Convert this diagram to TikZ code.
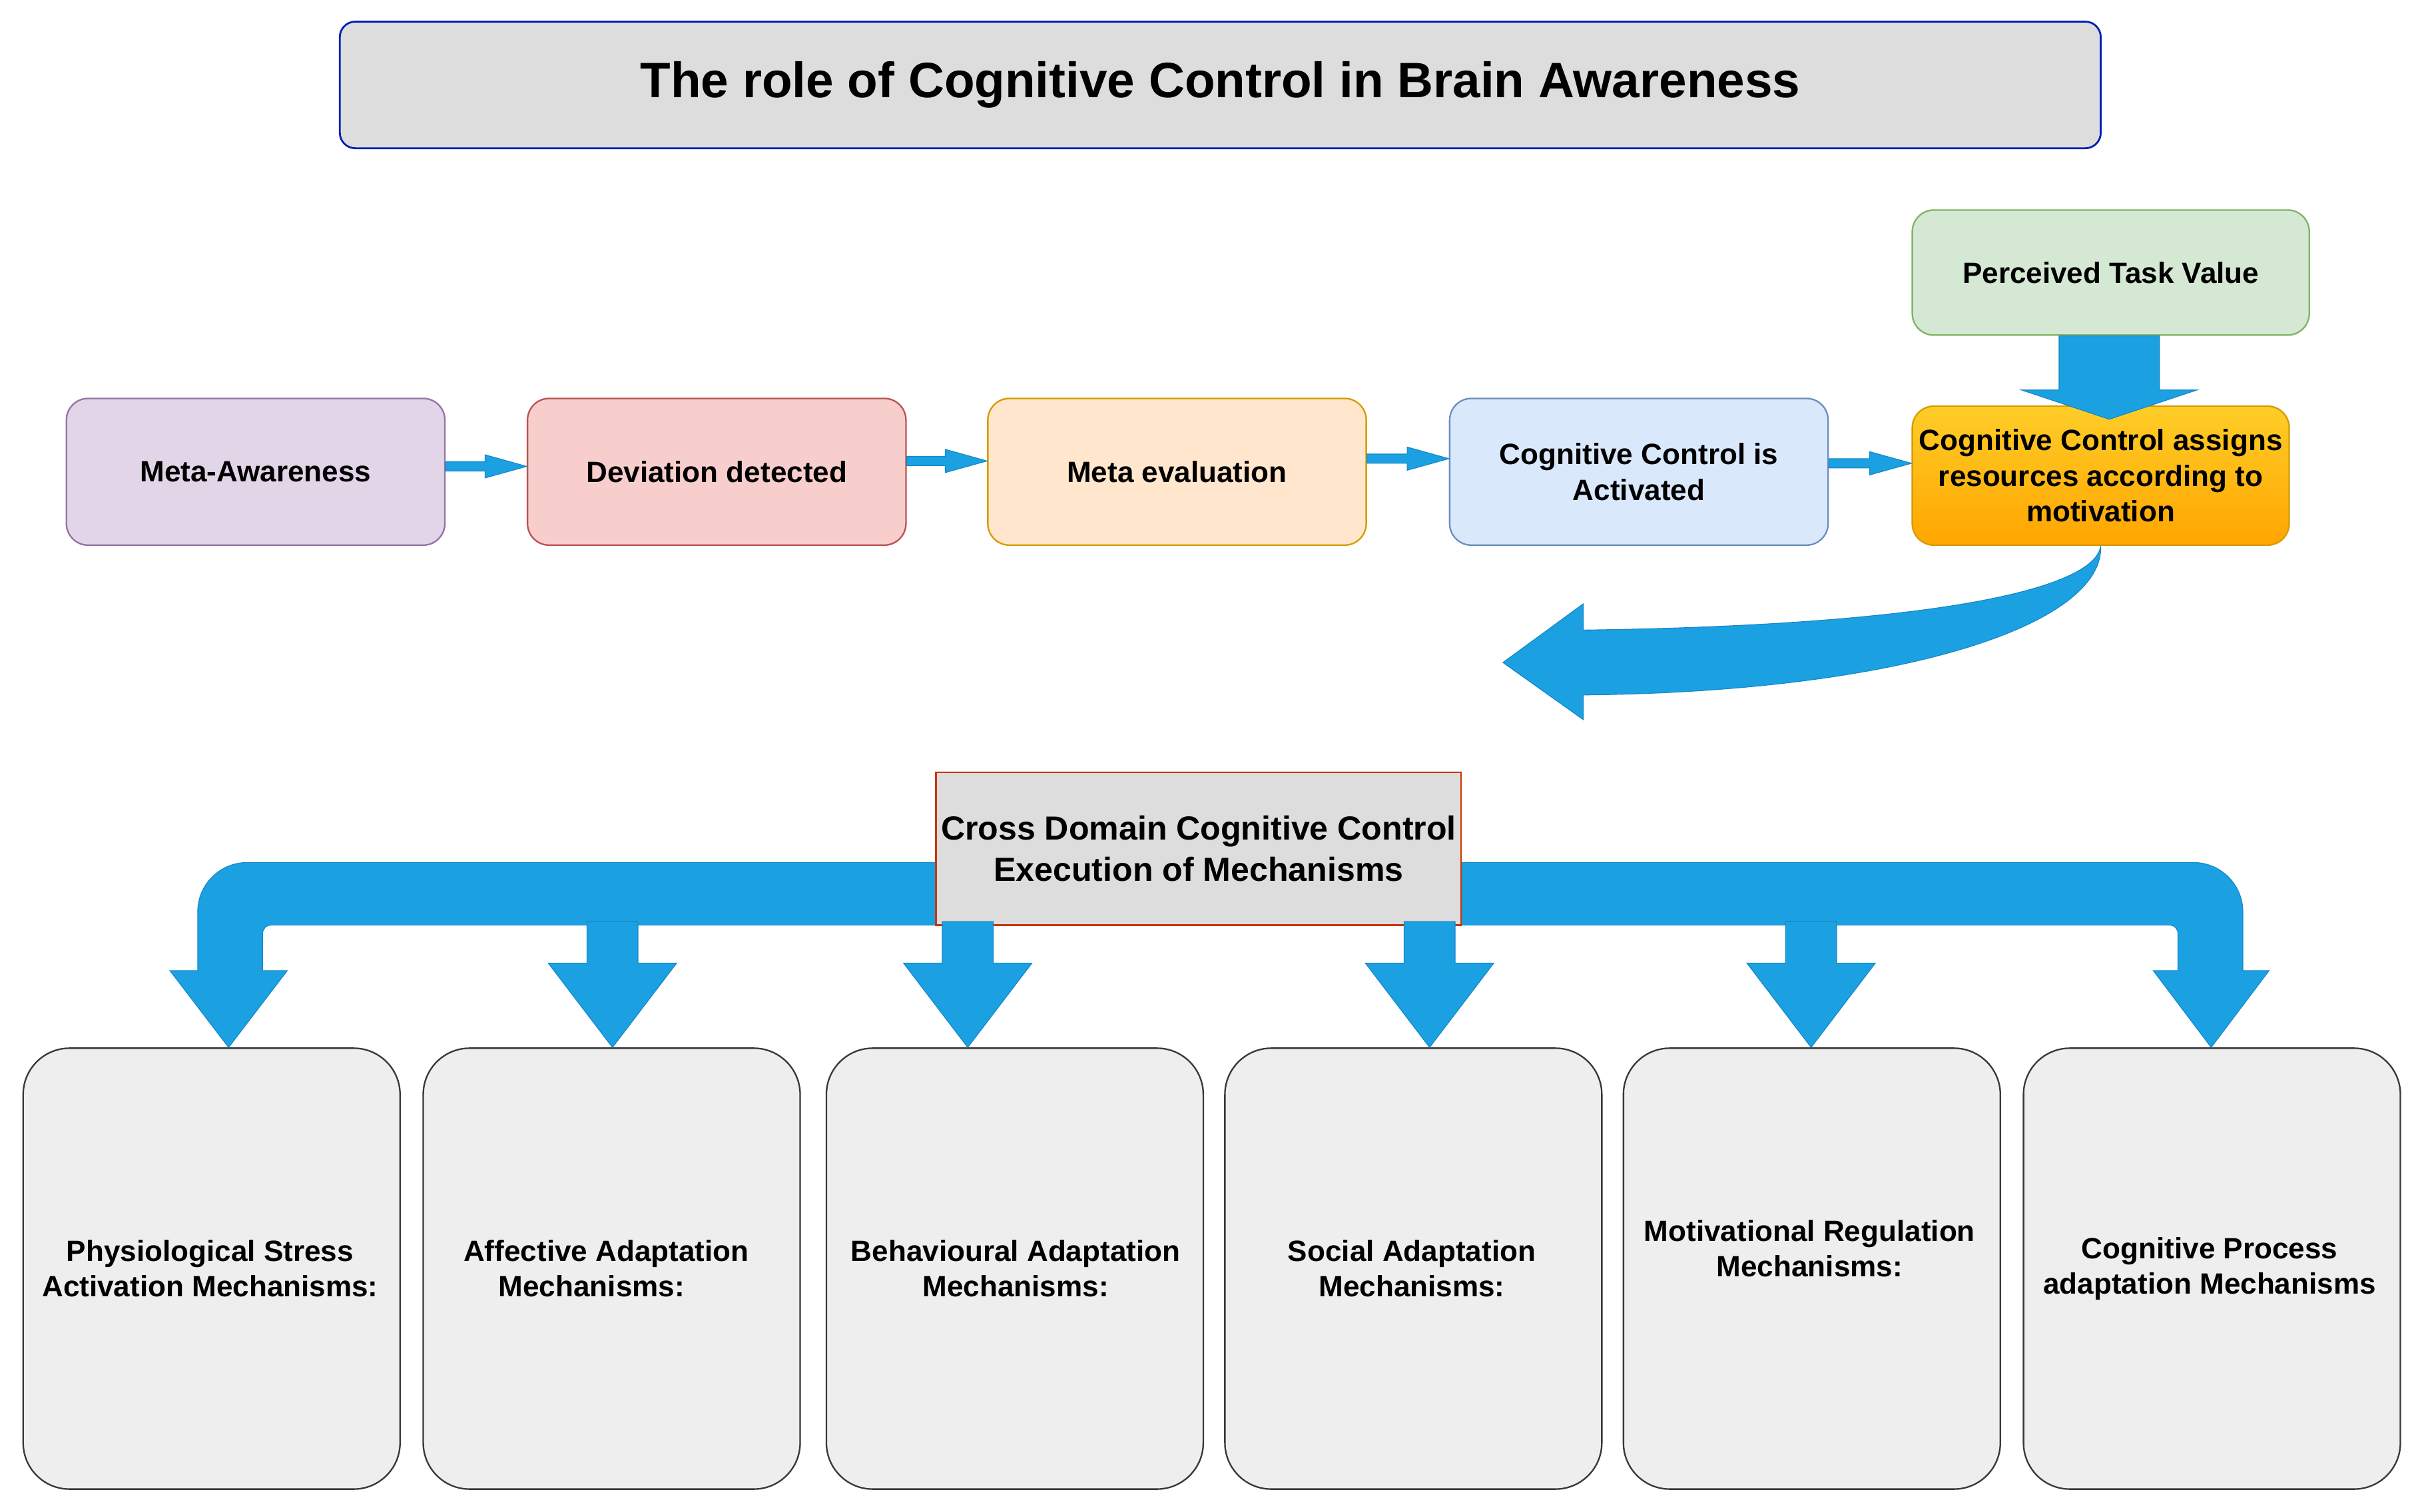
\documentclass[tikz,border=0pt]{standalone}
\usepackage{fontspec}
\setmainfont{Liberation Sans}
\usetikzlibrary{calc}
\definecolor{arrowblue}{HTML}{1BA1E2}
\definecolor{arrowedge}{HTML}{1587C8}
\definecolor{purpleF}{HTML}{E1D5E7}\definecolor{purpleD}{HTML}{9673A6}
\definecolor{redF}{HTML}{F8CECC}\definecolor{redD}{HTML}{B85450}
\definecolor{orangeF}{HTML}{FFE6CC}\definecolor{orangeD}{HTML}{D79B00}
\definecolor{blueF}{HTML}{DAE8FC}\definecolor{blueD}{HTML}{6C8EBF}
\definecolor{greenF}{HTML}{D5E8D4}\definecolor{greenD}{HTML}{82B366}
\definecolor{goldT}{HTML}{FFCD28}\definecolor{goldB}{HTML}{FFA500}
\definecolor{titleF}{HTML}{DDDDDD}\definecolor{titleD}{HTML}{001DBC}
\definecolor{crossD}{HTML}{C73500}
\definecolor{mechF}{HTML}{EEEEEE}\definecolor{mechD}{HTML}{36393D}
\tikzset{
  flowbox/.style={rounded corners=14pt, line width=1pt, minimum width=245pt,
    minimum height=95pt, align=center, inner sep=0pt,
    font=\bfseries\fontsize{19}{23}\selectfont},
  mechbox/.style={rounded corners=30pt, line width=1pt, fill=mechF, draw=mechD,
    minimum width=244pt, minimum height=285.5pt, inner sep=0pt},
  mechtext/.style={align=center, inner sep=0pt, font=\bfseries\fontsize{19}{23}\selectfont},
  arrowfill/.style={fill=arrowblue, draw=arrowedge, line width=0.5pt, line join=miter},
}
% small flex arrow from node #1 (east) to node #2 (west), vertical offset #3 from #1's centre
\newcommand\flexarr[3]{%
  \path ($(#1.east)+(0,#3)$) coordinate (fs);
  \path (fs -| #2.west) coordinate (ft);
  \filldraw[arrowfill] ($(fs)+(0,-3)$) -- ($(ft)+(-27,-3)$) -- ($(ft)+(-27,-7.5)$) -- (ft)
    -- ($(ft)+(-27,7.5)$) -- ($(ft)+(-27,3)$) -- ($(fs)+(0,3)$) -- cycle;}
% drop arrow ending at coordinate #1 (tip)
\newcommand\droparr[1]{%
  \filldraw[arrowfill] (#1) -- ++(-41.5,-54.5) -- ++(25,0) -- ++(0,-27) -- ++(33,0)
    -- ++(0,27) -- ++(25,0) -- cycle;}
\begin{document}
\begin{tikzpicture}[x=1pt,y=-1pt]
\useasboundingbox[fill=white] (0,0) rectangle (1568,979);

% title
\node[draw=titleD, fill=titleF, rounded corners=10pt, line width=1.2pt,
  minimum width=1140pt, minimum height=82pt, inner sep=0pt,
  font=\bfseries\fontsize{32.2}{38}\selectfont] (title) at (790,55)
  {The role of Cognitive Control in Brain Awareness};

% top row
\node[flowbox, fill=purpleF, draw=purpleD] (ma) at (165.5,305.5) {Meta-Awareness};
\node[flowbox, fill=redF, draw=redD] (dd) at (464,305.5) {Deviation detected};
\node[flowbox, fill=orangeF, draw=orangeD] (me) at (762,305.5) {Meta evaluation};
\node[flowbox, fill=blueF, draw=blueD] (cc) at (1061,305.5) {Cognitive Control is\\Activated};
\node[flowbox, minimum width=244pt, minimum height=90pt, top color=goldT,
  bottom color=goldB, draw=orangeD] (cr) at (1360,308)
  {Cognitive Control assigns\\resources according to\\motivation};
\node[flowbox, minimum width=257pt, minimum height=81pt, fill=greenF, draw=greenD]
  (pt) at (1366.5,176.5) {Perceived Task Value};

\flexarr{ma}{dd}{-3.5}
\flexarr{dd}{me}{-7}
\flexarr{me}{cc}{-8.5}
\flexarr{cc}{cr}{-5.5}

% big down arrow perceived -> assigns
\coordinate (ptip) at ($(pt.south)+(-1,54)$);
\filldraw[arrowfill] (ptip) -- ++(-57,-19) -- ++(24.5,0) -- ($(pt.south)+(-33.5,0)$)
  -- ($(pt.south)+(31.5,0)$) -- ++(0,35) -- ++(24.5,0) -- cycle;

% big curved arrow
\coordinate (cstart) at (cr.south);
\filldraw[arrowfill] (cstart) .. controls (1356,382) and (1250,405) .. (1025,408)
  -- (1025,391) -- (973,429) -- (1025,466) -- (1025,450)
  .. controls (1230,448) and (1362,405) .. (cstart) -- cycle;

% mechanism boxes
\node[mechbox] (m1) at (137,821.5) {};
\node[mechbox] (m2) at (396,821.5) {};
\node[mechbox] (m3) at (657,821.5) {};
\node[mechbox] (m4) at (915,821.5) {};
\node[mechbox] (m5) at (1173,821.5) {};
\node[mechbox] (m6) at (1432,821.5) {};

\node[mechtext] (l1) at (136,821.5) {Physiological Stress\\Activation Mechanisms:};
\node[mechtext] (l2) at (392.5,821.5) {Affective Adaptation\\Mechanisms:\hspace*{19pt}};
\node[mechtext] (l3) at (657.5,821.5) {Behavioural Adaptation\\Mechanisms:};
\node[mechtext] (l4) at (914,821.5) {Social Adaptation\\Mechanisms:};
\node[mechtext] (l5) at (1171.5,808.5) {Motivational Regulation\\Mechanisms:};
\node[mechtext] (l6) at (1430.5,821.5) {Cognitive Process\\adaptation Mechanisms};

% bus band (behind cross node)
\filldraw[arrowfill] ($(m1.north)+(11,0)$) -- (110,628.5) -- (128,628.5) -- (128,590.5)
  .. controls (128,572.8) and (142.3,558.5) .. (160,558.5)
  -- (1420,558.5) .. controls (1437.7,558.5) and (1452,572.8) .. (1452,590.5)
  -- (1452,628.5) -- (1469,628.5) -- ($(m6.north)+(-0.5,0)$) -- (1394,628.5)
  -- (1410,628.5) -- (1410,605) .. controls (1410,601.5) and (1408,599) .. (1404,599)
  -- (176,599) .. controls (172,599) and (170,601.5) .. (170,605)
  -- (170,628.5) -- (186,628.5) -- cycle;

% cross domain node
\node[draw=crossD, fill=titleF, line width=1pt, minimum width=340pt, minimum height=99pt,
  inner sep=0pt, align=center, font=\bfseries\fontsize{21.6}{27}\selectfont]
  (cd) at (776,549.5) {Cross Domain Cognitive Control\\Execution of Mechanisms};

% drop arrows
\coordinate (d2) at ($(m2.north)+(0.5,0)$);
\coordinate (d3) at ($(m3.north)+(-30.5,0)$);
\coordinate (d4) at ($(m4.north)+(10.5,0)$);
\coordinate (d5) at ($(m5.north)+(-0.5,0)$);
\droparr{d2}
\droparr{d3}
\droparr{d4}
\droparr{d5}
\end{tikzpicture}
\end{document}
